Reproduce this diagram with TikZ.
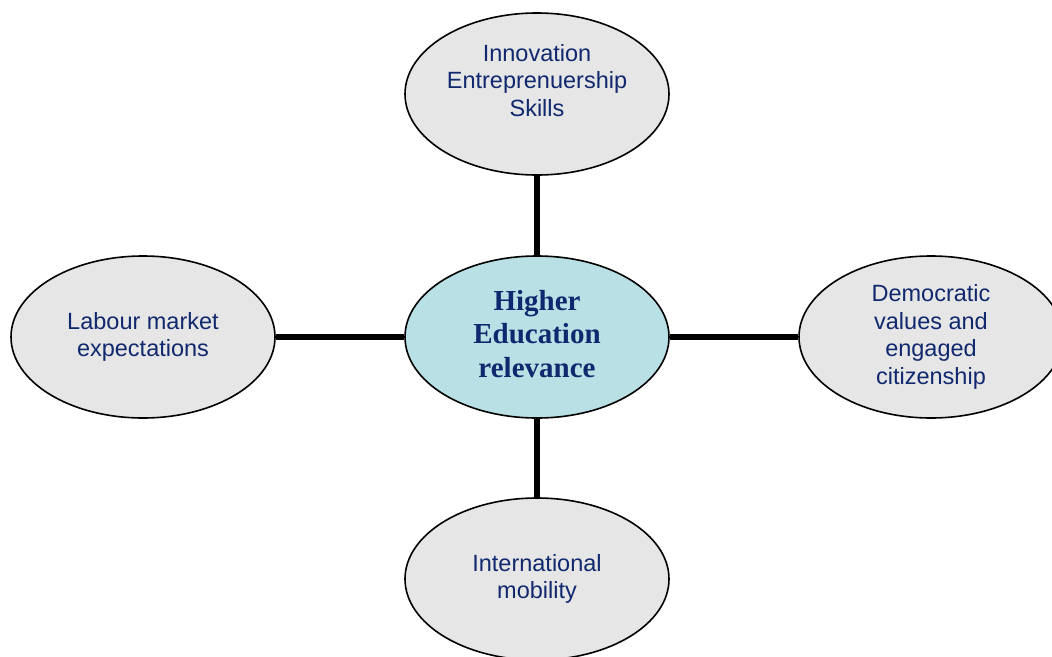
\documentclass[tikz,border=0pt]{standalone}
\usepackage{fontspec}
\usetikzlibrary{shapes.geometric}
\setmainfont{Liberation Serif}
\newfontfamily\arialfont{Liberation Sans}
\definecolor{textblue}{RGB}{16,40,110}
\definecolor{ovalgrey}{RGB}{230,230,230}
\definecolor{ovalcyan}{RGB}{185,224,228}

\begin{document}
\begin{tikzpicture}[x=1pt,y=-1pt,
main node/.style={ellipse,draw,line width=1.6pt,fill=ovalgrey,minimum width=264pt,minimum height=162pt,inner sep=0pt,align=center,text=textblue,font=\arialfont\fontsize{23.5}{27.5}\selectfont},
hub node/.style={main node,fill=ovalcyan,font=\bfseries\fontsize{29}{33.5}\selectfont}]

\useasboundingbox (0,0) rectangle (1052,656);

\node[main node] (n0) at (537,337) [hub node] {Higher\\Education\\relevance\\[-27pt]\mbox{}};
\node[main node] (n1) at (537,94) {Innovation\\Entreprenuership\\Skills\\[0pt]\mbox{}};
\node[main node] (n2) at (143,337) {Labour market\\expectations};
\node[main node] (n3) at (931,337) {Democratic\\values and\\engaged\\citizenship};
\node[main node] (n4) at (537,579) {International\\mobility};

\path[](n1) [-,line width=5.5pt] edge node [] {} (n0);
\path[](n2) [-,line width=5.5pt] edge node [] {} (n0);
\path[](n0) [-,line width=5.5pt] edge node [] {} (n3);
\path[](n0) [-,line width=5.5pt] edge node [] {} (n4);
\end{tikzpicture}
\end{document}
